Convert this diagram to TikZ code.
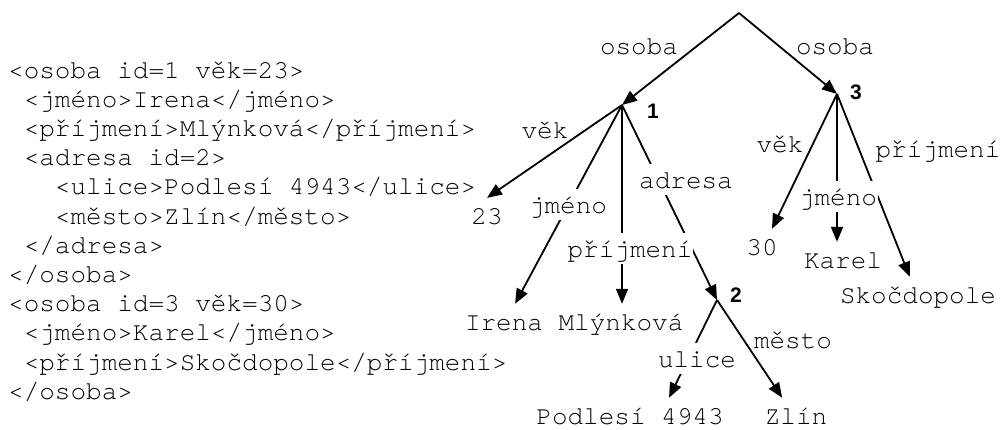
\documentclass[tikz,border=0pt]{standalone}
\usepackage{fontspec}
\newfontfamily\codefont{TeX Gyre Cursor}
\newfontfamily\idfont{Liberation Sans}
\usetikzlibrary{arrows.meta}

\begin{document}
\begin{tikzpicture}[x=1pt,y=-1pt,
  mono/.style={font=\codefont\fontsize{26}{29}\selectfont},
  code/.style={mono, anchor=base west, inner sep=0pt},
  lab/.style={mono, anchor=base, inner sep=0pt},
  onlab/.style={lab, fill=white, text height=22pt, text depth=5pt, inner xsep=1pt, inner ysep=2pt},
  leaf/.style={mono, anchor=base, text height=16pt, text depth=5pt, inner xsep=3pt, inner ysep=10pt},
  ident/.style={anchor=base west, inner sep=0pt, font=\idfont\bfseries\fontsize{21}{24}\selectfont},
  edge/.style={line width=1.8pt, -{Triangle[length=15pt,width=12pt]}}
]
\useasboundingbox (0,0) rectangle (1002,429);

% XML source
\node[code] (l1)  at (8, 78.0)  {<osoba id=1 věk=23>};
\node[code] (l2)  at (8,107.2)  {\ <jméno>Irena</jméno>};
\node[code] (l3)  at (8,136.4)  {\ <příjmení>Mlýnková</příjmení>};
\node[code] (l4)  at (8,165.6)  {\ <adresa id=2>};
\node[code] (l5)  at (8,194.8)  {\ \ \ <ulice>Podlesí 4943</ulice>};
\node[code] (l6)  at (8,224.0)  {\ \ \ <město>Zlín</město>};
\node[code] (l7)  at (8,253.2)  {\ </adresa>};
\node[code] (l8)  at (8,282.4)  {</osoba>};
\node[code] (l9)  at (8,311.6)  {<osoba id=3 věk=30>};
\node[code] (l10) at (8,340.8)  {\ <jméno>Karel</jméno>};
\node[code] (l11) at (8,370.0)  {\ <příjmení>Skočdopole</příjmení>};
\node[code] (l12) at (8,399.2)  {</osoba>};

% tree: inner vertices
\coordinate (root) at (739,13);
\coordinate (n1) at (622,105);
\coordinate (n3) at (837,94);
\coordinate (n2) at (717,300);

\node[ident] (id1) at (647,118) {1};
\node[ident] (id3) at (850,99)  {3};
\node[ident] (id2) at (730,302) {2};

% tree: leaf values
\node[leaf] (v23)      at (487,224) {23};
\node[leaf] (irena)    at (504,330) {Irena};
\node[leaf] (mlynkova) at (621,330) {Mlýnková};
\node[leaf] (podlesi)  at (630,424) {Podlesí 4943};
\node[leaf] (zlin)     at (796,424) {Zlín};
\node[leaf] (v30)      at (762,255) {30};
\node[leaf] (karel)    at (843,268) {Karel};
\node[leaf] (skoc)     at (918,303) {Skočdopole};

% edges
\draw[edge] (root) -- (n1);
\draw[edge] (root) -- (n3);
\draw[edge] (n1) -- (v23.north);
\draw[edge] (n1) -- (irena);
\draw[edge] (n1) -- (n1 |- mlynkova.north);
\draw[edge] (n1) -- (n2);
\draw[edge] (n2) -- ([xshift=39pt]podlesi.north);
\draw[edge] (n2) -- (zlin);
\draw[edge] (n3) -- (v30);
\draw[edge] (n3) -- (n3 |- karel.north);
\draw[edge] (n3) -- (skoc);

% edge labels
\node[lab]   (e1)  at (639,54)  {osoba};
\node[lab]   (e2)  at (835,54)  {osoba};
\node[lab]   (e3)  at (545,138) {věk};
\node[onlab] (e4)  at (568,213) {jméno};
\node[onlab] (e5)  at (630,257) {příjmení};
\node[onlab] (e6)  at (686,188) {adresa};
\node[onlab] (e7)  at (697,367) {ulice};
\node[lab]   (e8)  at (793,348) {město};
\node[lab]   (e9)  at (780,152) {věk};
\node[onlab] (e10) at (838,205) {jméno};
\node[lab]   (e11) at (938,157) {příjmení};
\end{tikzpicture}
\end{document}
